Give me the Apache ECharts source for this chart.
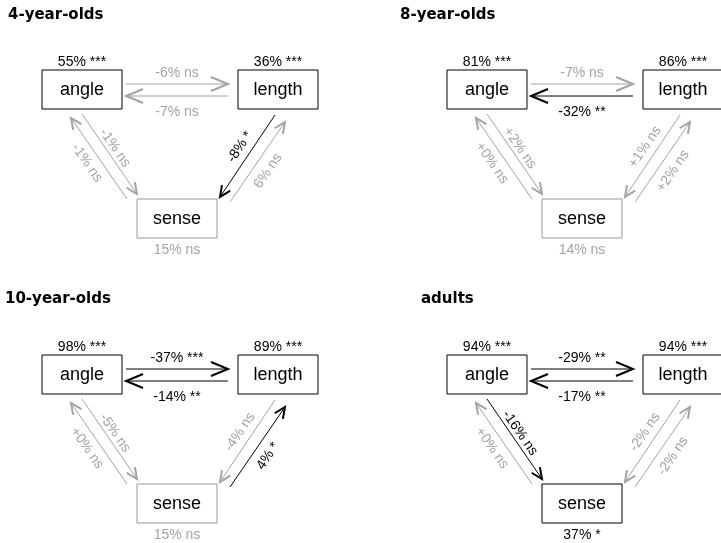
<!DOCTYPE html>
<html>
<head>
<meta charset="utf-8">
<title>angle / length / sense</title>
<script src="https://cdn.jsdelivr.net/npm/echarts@6/dist/echarts.min.js"></script>
<style>
  html, body { margin: 0; padding: 0; background: #fff; }
  #main { width: 721px; height: 543px; }
</style>
</head>
<body>
<div id="main"></div>
<script type="text/javascript">
// panels
var panelTitles = ['4-year-olds', '8-year-olds', '10-year-olds', 'adults'];
var nodeNames = ['angle', 'length', 'sense'];

// node values per panel (angle, length, sense)
var angleValues = [55, 81, 98, 94];
var angleSig = ['***', '***', '***', '***'];
var lengthValues = [36, 86, 89, 94];
var lengthSig = ['***', '***', '***', '***'];
var senseValues = [15, 14, 15, 37];
var senseSig = ['ns', 'ns', 'ns', '*'];

// edges: angle>length, length>angle, angle>sense, sense>angle, length>sense, sense>length
var edgeNames = ['angle-length', 'length-angle', 'angle-sense', 'sense-angle', 'length-sense', 'sense-length'];
var edges4 = ['-6', '-7', '-1', '-1', '-8', '6'];
var sig4 = ['ns', 'ns', 'ns', 'ns', '*', 'ns'];
var edges8 = ['-7', '-32', '+2', '+0', '+1', '+2'];
var sig8 = ['ns', '**', 'ns', 'ns', 'ns', 'ns'];
var edges10 = ['-37', '-14', '-5', '+0', '-4', '4'];
var sig10 = ['***', '**', 'ns', 'ns', 'ns', '*'];
var edgesAdult = ['-29', '-17', '-16', '+0', '-2', '-2'];
var sigAdult = ['**', '**', 'ns', 'ns', 'ns', 'ns'];

var edgeValues = [edges4, edges8, edges10, edgesAdult];
var edgeSig = [sig4, sig8, sig10, sigAdult];

// layout (pixel space of one panel)
var panelOffset = [[0, 0], [405, 0], [0, 285], [405, 285]];
var titleLeft = [8, 400, 5, 421];
var nodePos = [[82, 89.5], [278, 89.5], [177, 218.5]];
// x1, y1, x2, y2, labelX, labelY, rotation(deg)
var edgeLayout = [
  [126, 84, 228, 84, 177, 73, 0],
  [228, 96, 126, 96, 177, 112, 0],
  [82, 114, 137, 194, 115, 148, -55],
  [127, 199, 71, 118, 87, 163, -55],
  [275, 115, 220, 197, 240, 147, 56],
  [230, 202, 285, 122, 268, 171, 56]
];

var GREY = '#a3a3a3';
var FONT = '"Liberation Sans", Arial, sans-serif';

function isStrong(val, sig) {
  return sig !== 'ns' || Math.abs(parseFloat(val)) >= 10;
}

// build series data
var nodeData = [], nodeMeta = [];
var edgeData = [], edgeMeta = [];
for (var p = 0; p < 4; p++) {
  var off = panelOffset[p];
  var vals = [angleValues[p], lengthValues[p], senseValues[p]];
  var sigs = [angleSig[p], lengthSig[p], senseSig[p]];
  for (var n = 0; n < 3; n++) {
    nodeData.push([off[0] + nodePos[n][0], off[1] + nodePos[n][1]]);
    nodeMeta.push({ name: nodeNames[n], label: vals[n] + '% ' + sigs[n], strong: sigs[n] !== 'ns', below: n === 2 });
  }
  for (var e = 0; e < 6; e++) {
    var L = edgeLayout[e];
    edgeData.push([off[0] + L[0], off[1] + L[1], off[0] + L[2], off[1] + L[3], off[0] + L[4], off[1] + L[5], L[6]]);
    edgeMeta.push({
      label: edgeValues[p][e] + '% ' + edgeSig[p][e],
      strong: isStrong(edgeValues[p][e], edgeSig[p][e]),
      horiz: e < 2
    });
  }
}

function renderNode(params, api) {
  var c = api.coord([api.value(0), api.value(1)]);
  var m = nodeMeta[params.dataIndex];
  var col = m.strong ? '#000' : '#999';
  var w = 80, h = 39;
  return {
    type: 'group',
    children: [
      { type: 'rect', shape: { x: c[0] - w / 2, y: c[1] - h / 2, width: w, height: h },
        style: { fill: '#fff', stroke: m.name === 'sense' ? col : '#000', lineWidth: 1 } },
      { type: 'text', x: c[0], y: c[1] + 1,
        style: { text: m.name, fill: '#000', font: '18px ' + FONT, align: 'center', verticalAlign: 'middle' } },
      { type: 'text', x: c[0], y: c[1] + (m.below ? 31.5 : -27.5),
        style: { text: m.label, fill: m.strong ? '#000' : GREY, font: '14px ' + FONT, align: 'center', verticalAlign: 'middle' } }
    ]
  };
}

function renderEdge(params, api) {
  var a = api.coord([api.value(0), api.value(1)]);
  var b = api.coord([api.value(2), api.value(3)]);
  var lp = api.coord([api.value(4), api.value(5)]);
  var rot = api.value(6) * Math.PI / 180;
  var m = edgeMeta[params.dataIndex];
  var col = m.strong ? '#000' : GREY;
  var dx = b[0] - a[0], dy = b[1] - a[1];
  var len = Math.sqrt(dx * dx + dy * dy);
  var ux = dx / len, uy = dy / len;
  var hl = m.horiz ? 17 : 11, hw = m.horiz ? 7 : 5;
  var b1 = [b[0] - ux * hl - uy * hw, b[1] - uy * hl + ux * hw];
  var b2 = [b[0] - ux * hl + uy * hw, b[1] - uy * hl - ux * hw];
  return {
    type: 'group',
    children: [
      { type: 'line', shape: { x1: a[0], y1: a[1], x2: b[0], y2: b[1] },
        style: { stroke: col, lineWidth: 1 } },
      { type: 'polyline', shape: { points: [b1, b, b2] },
        style: { stroke: col, lineWidth: 2, fill: null } },
      { type: 'text', x: lp[0], y: lp[1], rotation: rot,
        style: { text: m.label, fill: col, font: '14px ' + FONT, align: 'center', verticalAlign: 'middle' } }
    ]
  };
}

var chart = echarts.init(document.getElementById('main'));
chart.setOption({
  animation: false,
  title: panelTitles.map(function (t, i) {
    return {
      text: t, left: titleLeft[i], top: i < 2 ? 8 : 292, padding: 0,
      textStyle: { fontSize: 15, fontWeight: 'bold', color: '#000', fontFamily: '"DejaVu Sans", sans-serif' }
    };
  }),
  grid: { left: 0, right: 0, top: 0, bottom: 0 },
  xAxis: { type: 'value', min: 0, max: 721, show: false },
  yAxis: { type: 'value', min: 0, max: 543, inverse: true, show: false },
  series: [
    { type: 'custom', name: 'edges', renderItem: renderEdge, data: edgeData, clip: false, silent: true },
    { type: 'custom', name: 'nodes', renderItem: renderNode, data: nodeData, clip: false, silent: true }
  ]
});
</script>
</body>
</html>
